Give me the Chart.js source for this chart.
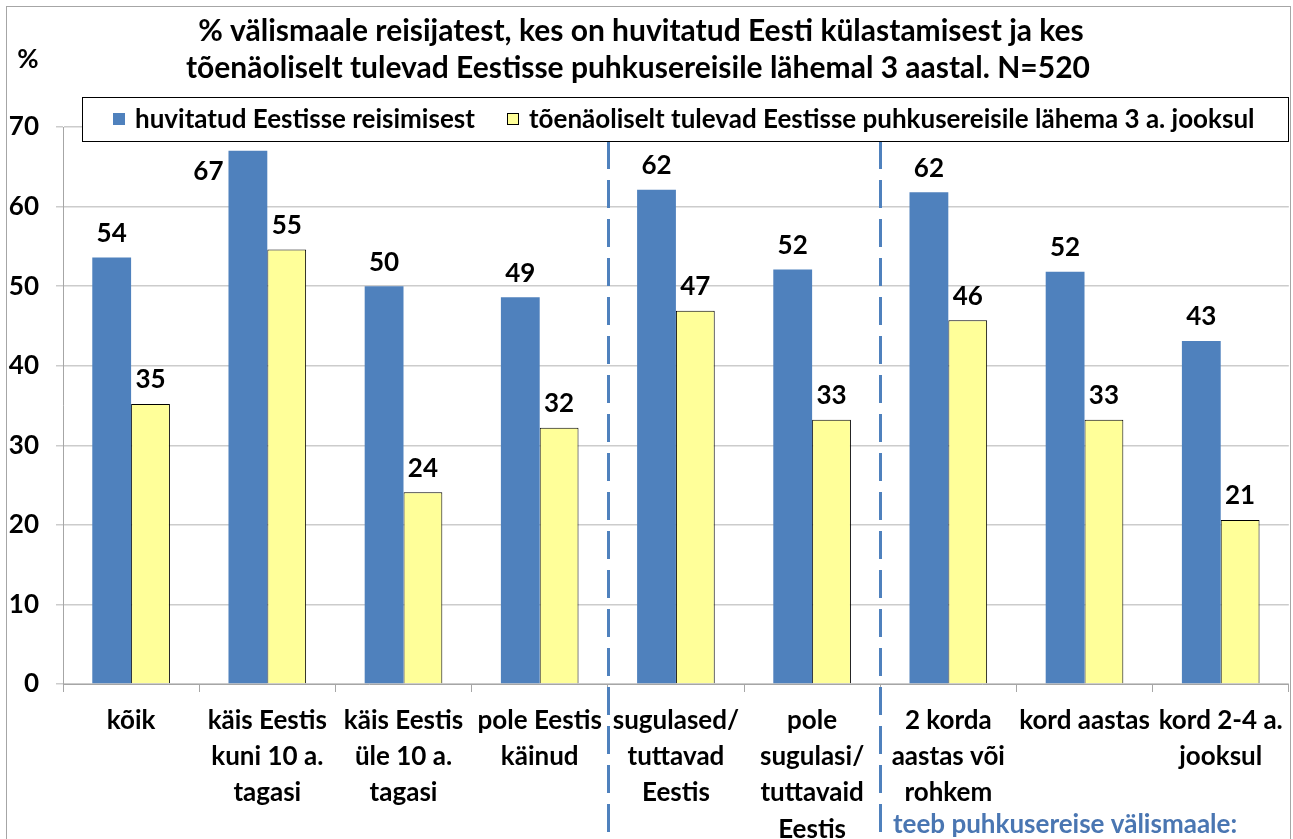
<!DOCTYPE html>
<html>
<head>
<meta charset="utf-8">
<script src="https://cdn.jsdelivr.net/npm/chart.js@4"></script>
<style>
  body { margin: 0; background: #fff; }
  #wrap { width: 1293px; height: 839px; position: relative; }
</style>
</head>
<body>
<div id="wrap"><canvas id="graf" width="1293" height="839"></canvas></div>
<script>
const kategooriad = [
  ["kõik"],
  ["käis Eestis", "kuni 10 a.", "tagasi"],
  ["käis Eestis", "üle 10 a.", "tagasi"],
  ["pole Eestis", "käinud"],
  ["sugulased/", "tuttavad", "Eestis"],
  ["pole", "sugulasi/", "tuttavaid", "Eestis"],
  ["2 korda", "aastas või", "rohkem"],
  ["kord aastas"],
  ["kord 2-4 a.", "jooksul"],
];
const huvitatud = [53.6, 67.0, 50.0, 48.6, 62.1, 52.1, 61.8, 51.8, 43.1];
const toenaoliselt = [35.2, 54.6, 24.1, 32.2, 46.9, 33.2, 45.7, 33.2, 20.6];
const yTicks = [0, 10, 20, 30, 40, 50, 60, 70];
const seeriad = ["huvitatud Eestisse reisimisest", "tõenäoliselt tulevad Eestisse puhkusereisile lähema 3 a. jooksul"];
const pealkiri = [
  "% välismaale reisijatest, kes on huvitatud Eesti külastamisest ja kes",
  "tõenäoliselt tulevad Eestisse puhkusereisile lähemal 3 aastal. N=520",
];
const eraldajad = [4, 6]; // kategooria järel katkendjoon

const FONT = "Lato, 'Open Sans', sans-serif";
const legendBox = { x: 82, y: 97, w: 1206, h: 44 };

// raam, pealkiri, legend jne
const joonised = {
  id: "joonised",
  beforeDraw(chart) {
    const c = chart.ctx;
    c.save();
    c.fillStyle = "#fff";
    c.fillRect(0, 0, chart.width, chart.height);
    c.strokeStyle = "#a6a6a6";
    c.lineWidth = 1;
    c.strokeRect(6.5, 6.5, 1284, 840);
    c.restore();
  },
  afterDatasetsDraw(chart) {
    const c = chart.ctx;
    const x = chart.scales.x;
    c.save();
    // katkendjooned
    c.strokeStyle = "#4f81bd";
    c.lineWidth = 3;
    c.setLineDash([28, 11]);
    eraldajad.forEach((i) => {
      const px = Math.round((x.getPixelForValue(i - 1) + x.getPixelForValue(i)) / 2) + 0.5;
      c.beginPath();
      c.moveTo(px, 141);
      c.lineTo(px, 836);
      c.stroke();
    });
    c.setLineDash([]);

    // väärtused
    c.font = "bold 26px " + FONT;
    c.fillStyle = "#000";
    c.textAlign = "center";
    c.textBaseline = "middle";
    chart.data.datasets.forEach((ds, di) => {
      chart.getDatasetMeta(di).data.forEach((bar, i) => {
        const txt = String(Math.round(ds.data[i]));
        let ly = bar.y - 24;
        let lx = bar.x;
        if (ly - 12 < legendBox.y + legendBox.h) {
          lx = bar.x - bar.width / 2 - c.measureText(txt).width / 2 - 5;
          ly = bar.y + 21;
        }
        c.fillText(txt, lx, ly);
      });
    });

    // legend
    c.fillStyle = "#fff";
    c.fillRect(legendBox.x, legendBox.y, legendBox.w, legendBox.h);
    c.strokeStyle = "#000";
    c.lineWidth = 1;
    c.strokeRect(legendBox.x + 0.5, legendBox.y + 0.5, legendBox.w, legendBox.h);
    const lx = [113, 507];
    chart.data.datasets.forEach((ds, di) => {
      c.fillStyle = ds.backgroundColor;
      c.fillRect(lx[di], 113, 12, 12);
      if (ds.borderWidth) {
        c.strokeStyle = "#000";
        c.strokeRect(lx[di] + 0.5, 113.5, 11, 11);
      }
      c.fillStyle = "#000";
      c.textAlign = "left";
      c.fillText(seeriad[di], lx[di] + 22, 120);
    });

    // pealkiri
    c.font = "bold 30px " + FONT;
    c.textAlign = "center";
    c.fillText(pealkiri[0], 641, 31);
    c.fillText(pealkiri[1], 638, 68);
    c.font = "bold 26px " + FONT;
    c.fillText("%", 28, 60);

    // alumine tekst
    c.fillStyle = "#4a76b2";
    c.textAlign = "left";
    c.font = "bold 26px " + FONT;
    c.fillText("teeb puhkusereise välismaale:", 893, 825);
    c.restore();
  },
};

new Chart(document.getElementById("graf"), {
  type: "bar",
  data: {
    labels: kategooriad,
    datasets: [
      {
        label: seeriad[0],
        data: huvitatud,
        backgroundColor: "#4f81bd",
        borderWidth: 0,
      },
      {
        label: seeriad[1],
        data: toenaoliselt,
        backgroundColor: "#ffff99",
        borderColor: "#000",
        borderWidth: 1,
      },
    ],
  },
  options: {
    responsive: false,
    animation: false,
    devicePixelRatio: 1,
    layout: { padding: { left: 0, top: 127, right: 4, bottom: 0 } },
    datasets: { bar: { categoryPercentage: 0.57, barPercentage: 1 } },
    plugins: {
      legend: { display: false },
      title: { display: false },
      tooltip: { enabled: false },
    },
    scales: {
      x: {
        grid: { drawOnChartArea: false, drawTicks: true, tickLength: 8, color: "#a6a6a6", offset: true },
        border: { color: "#a6a6a6" },
        ticks: {
          color: "#000",
          font: { family: FONT, size: 26, weight: "bold", lineHeight: 1.4 },
          padding: 10,
          maxRotation: 0,
          autoSkip: false,
        },
        afterFit(s) { s.height = 155; },
      },
      y: {
        min: 0,
        max: 70,
        afterBuildTicks(s) { s.ticks = yTicks.map((v) => ({ value: v })); },
        grid: { color: "#cccccc", tickLength: 7, lineWidth: 1.5 },
        border: { color: "#a6a6a6" },
        ticks: {
          color: "#000",
          font: { family: FONT, size: 26, weight: "bold" },
          padding: 17,
        },
        afterFit(s) { s.width = 63; },
      },
    },
  },
  plugins: [joonised],
});
</script>
</body>
</html>
